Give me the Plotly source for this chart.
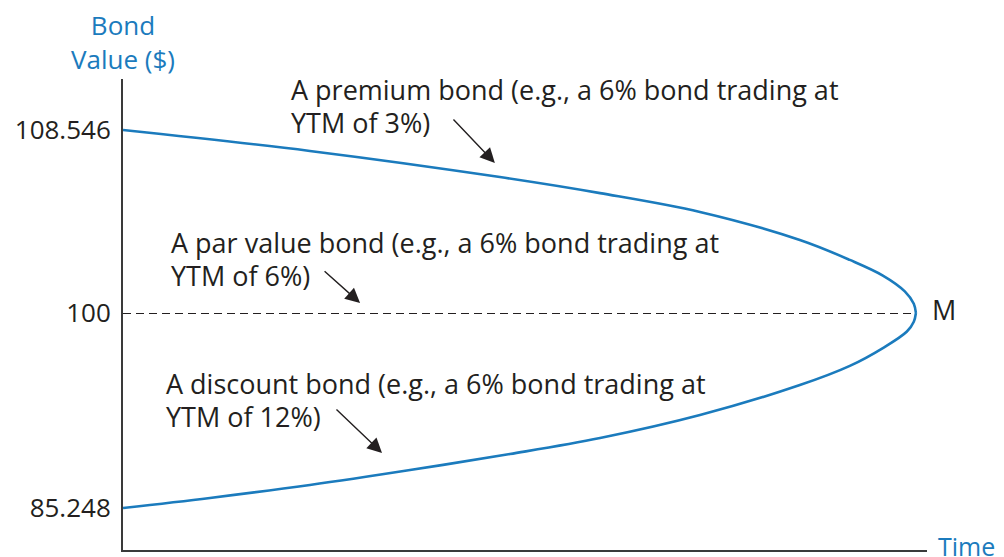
import plotly.graph_objects as go

# time in years (M = maturity at 3 years), bond values in $
time_premium = [0, 0.707, 1.426, 1.805, 2.183, 2.561, 2.75, 2.875, 2.958, 2.992, 3.0]
value_premium = [108.546, 107.57, 106.35, 105.60, 104.72, 103.41, 102.48, 101.75, 101.01, 100.43, 100.0]

time_discount = [0, 0.329, 0.707, 1.086, 1.464, 1.805, 2.183, 2.561, 2.75, 2.875, 2.966, 2.992, 3.0]
value_discount = [85.248, 86.01, 86.99, 88.12, 89.33, 90.54, 92.28, 94.55, 96.0, 97.35, 98.60, 99.34, 100.0]

time_par = [0, 3.0]
value_par = [100.0, 100.0]

upper_ticks = [108.546]
lower_ticks = [85.248, 100]

premium_text = ["A premium bond (e.g., a 6% bond trading at", "YTM of 3%)"]
par_text = ["A par value bond (e.g., a 6% bond trading at", "YTM of 6%)"]
discount_text = ["A discount bond (e.g., a 6% bond trading at", "YTM of 12%)"]

BLUE = "#1b7bbd"
INK = "#231f20"
FONT = "Open Sans"
TXT = 27

fig = go.Figure()
fig.add_trace(go.Scatter(x=time_premium, y=value_premium, mode="lines", yaxis="y",
                         line=dict(color=BLUE, width=2.6, shape="spline", smoothing=1.0)))
fig.add_trace(go.Scatter(x=time_discount, y=value_discount, mode="lines", yaxis="y2",
                         line=dict(color=BLUE, width=2.6, shape="spline", smoothing=1.0)))
fig.add_trace(go.Scatter(x=time_par, y=value_par, mode="lines", yaxis="y2",
                         line=dict(color=INK, width=2, dash="8px,5px")))

annotations = []


def text_block(lines, x, y_first, yref, step):
    for i, line in enumerate(lines):
        annotations.append(dict(text=line, x=x, y=y_first - i * step, xref="x", yref=yref,
                                xanchor="left", yanchor="middle", showarrow=False,
                                font=dict(family=FONT, size=TXT, color=INK)))


# upper axis: 21.41 px per $, lower axis: 13.22 px per $
text_block(premium_text, 0.627, 110.46, "y", 33 / 21.41)
text_block(par_text, 0.173, 103.27, "y", 33 / 21.41)
text_block(discount_text, 0.154, 94.63, "y2", 33 / 13.22)


def arrow(x, y, ax, ay, yref):
    annotations.append(dict(text="", x=x, y=y, ax=ax, ay=ay, xref="x", yref=yref,
                            axref="x", ayref=yref, showarrow=True, arrowhead=2,
                            arrowsize=2.1, arrowwidth=1.4, arrowcolor=INK))


arrow(1.407, 107.01, 1.245, 109.11, "y")
arrow(0.897, 100.47, 0.757, 102.01, "y")
arrow(0.980, 89.41, 0.802, 92.81, "y2")

annotations.append(dict(text="M", x=1.0037, y=0.5096, xref="paper", yref="paper",
                        xanchor="left", yanchor="middle", showarrow=False,
                        font=dict(family=FONT, size=TXT, color=INK)))
annotations.append(dict(text="Time", x=1.0115, y=0.0085, xref="paper", yref="paper",
                        xanchor="left", yanchor="middle", showarrow=False,
                        font=dict(family=FONT, size=25, color=BLUE)))
annotations.append(dict(text="Bond<br>Value ($)", x=0.0, y=1.0796, xref="paper", yref="paper",
                        xanchor="center", yanchor="middle", showarrow=False, align="center",
                        font=dict(family=FONT, size=26, color=BLUE)))

axis_common = dict(showgrid=False, zeroline=False, showline=True, linecolor="#3a3a3a",
                   linewidth=2, ticks="", ticklabelstandoff=5,
                   tickfont=dict(family=FONT, size=26, color=INK))

# the page body has an 8px margin, so the figure is 8px smaller on each axis
fig.update_layout(
    width=996, height=549,
    margin=dict(l=115, r=77, t=71, b=7),
    paper_bgcolor="white", plot_bgcolor="white",
    showlegend=False,
    xaxis=dict(range=[0, 3.042], showgrid=False, zeroline=False, showline=True,
               linecolor="#3a3a3a", linewidth=2, showticklabels=False, ticks="", anchor="y2"),
    yaxis=dict(domain=[0.5032, 1], range=[100, 110.93], tickvals=upper_ticks,
               ticktext=[str(v) for v in upper_ticks], anchor="x", **axis_common),
    yaxis2=dict(domain=[0, 0.5032], range=[82.07, 100], tickvals=lower_ticks,
                ticktext=[str(v) for v in lower_ticks], anchor="x", **axis_common),
    annotations=annotations,
)

fig.write_html("out.html")
